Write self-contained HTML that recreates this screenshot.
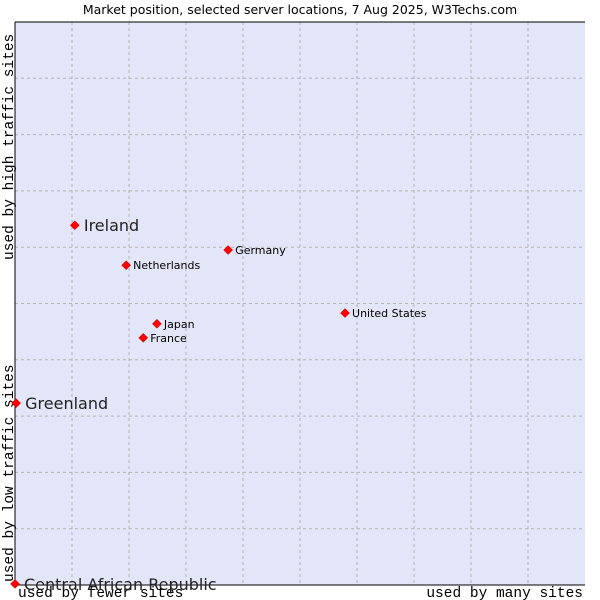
<!DOCTYPE html>
<html><head><meta charset="utf-8"><style>
body{margin:0;background:#fff;}
svg{display:block;font-family:"DejaVu Sans","Liberation Sans",sans-serif;}
</style></head><body>
<svg id="chart" width="600" height="600" xmlns="http://www.w3.org/2000/svg">
<text x="300" y="14" text-anchor="middle" font-size="12.5" fill="#000">Market position, selected server locations, 7 Aug 2025, W3Techs.com</text>
<rect x="15" y="22" width="570" height="563" fill="#e3e5f8"/>
<g id="grid"></g>
<path d="M15,22 H585 M15,22 V585 H585" stroke="#000" stroke-width="1" fill="none"/>
<text transform="translate(13,260) rotate(-90)" font-family="'Liberation Mono',monospace" font-size="14.5" fill="#000">used by high traffic sites</text>
<text transform="translate(13,582) rotate(-90)" font-family="'Liberation Mono',monospace" font-size="14.5" fill="#000">used by low traffic sites</text>
<text x="18" y="597" font-family="'Liberation Mono',monospace" font-size="14.5" fill="#000">used by fewer sites</text>
<text x="583" y="597" text-anchor="end" font-family="'Liberation Mono',monospace" font-size="14.5" fill="#000">used by many sites</text>
<g id="points"></g>
</svg>
<script>
const names = ["Ireland","Germany","Netherlands","United States","Japan","France","Greenland","Central African Republic"];
const xValues = [10.5,37.4,19.5,57.9,24.9,22.5,0.2,0.0];
const yValues = [63.9,59.5,56.8,48.3,46.4,43.9,32.3,0.2];
const bigLabel = [true,false,false,false,false,false,true,true];
const gridTicks = [10,20,30,40,50,60,70,80,90];

const NS="http://www.w3.org/2000/svg";
const L=15,R=585,T=22,B=585;
function sx(v){return L+v/100*(R-L);}
function sy(v){return B-v/100*(B-T);}
const grid=document.getElementById('grid');
gridTicks.forEach(t=>{
  const v=document.createElementNS(NS,'line');
  v.setAttribute('x1',sx(t));v.setAttribute('x2',sx(t));v.setAttribute('y1',T);v.setAttribute('y2',B);
  v.setAttribute('stroke','#b4b4b4');v.setAttribute('stroke-dasharray','3,3');
  
  
  grid.appendChild(v);
  const h=document.createElementNS(NS,'line');
  h.setAttribute('y1',sy(t));h.setAttribute('y2',sy(t));h.setAttribute('x1',L);h.setAttribute('x2',R);
  h.setAttribute('stroke','#b4b4b4');h.setAttribute('stroke-dasharray','3,3');
  
  
  grid.appendChild(h);
});
const pts=document.getElementById('points');
names.forEach((n,i)=>{
  const x=sx(xValues[i]),y=sy(yValues[i]);
  const d=document.createElementNS(NS,'path');
  d.setAttribute('d',`M${x},${y-4.5}L${x+4.5},${y}L${x},${y+4.5}L${x-4.5},${y}Z`);
  d.setAttribute('fill','#ff0000');d.setAttribute('stroke','#c00000');d.setAttribute('stroke-width','0.5');
  
  
  pts.appendChild(d);
  const t=document.createElementNS(NS,'text');
  t.setAttribute('x',x+(bigLabel[i]?9:7));
  t.setAttribute('y',y+(bigLabel[i]?6:4));
  t.setAttribute('font-size',bigLabel[i]?'16':'11');
  t.setAttribute('fill',bigLabel[i]?'#222':'#000');
  t.textContent=n;
  
  
  pts.appendChild(t);
});
</script>
</body></html>
